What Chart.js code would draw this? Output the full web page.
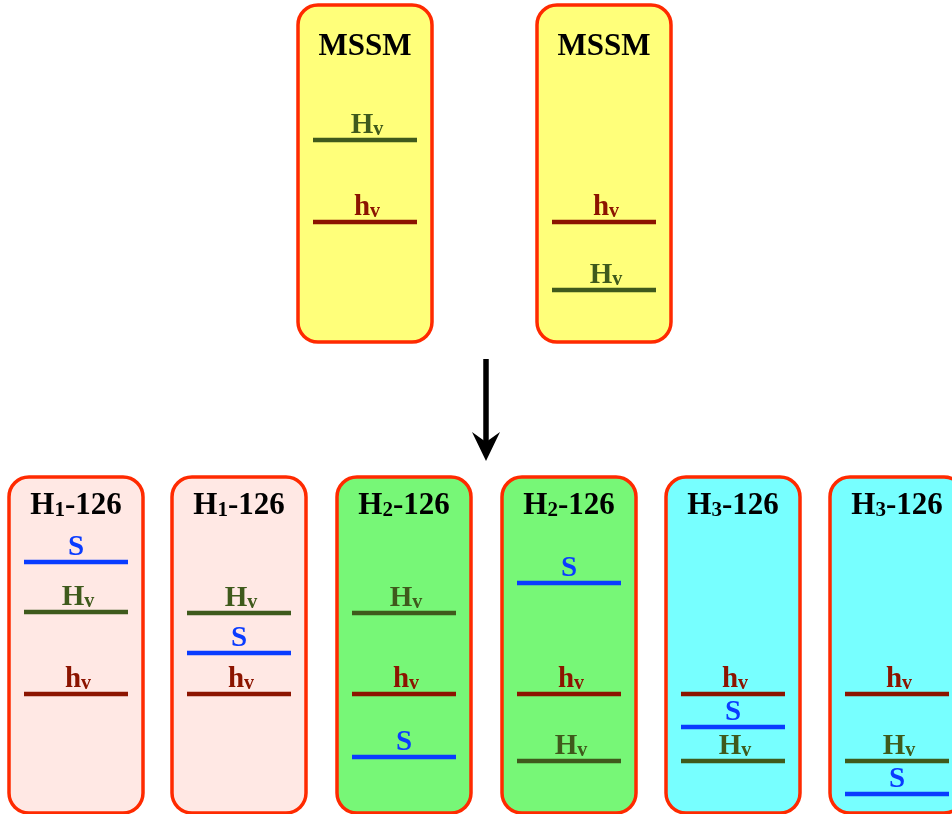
<!DOCTYPE html>
<html>
<head>
<meta charset="utf-8">
<script src="https://cdn.jsdelivr.net/npm/chart.js@4"></script>
<style>
  html, body { margin: 0; padding: 0; background: #fff; }
  #wrap { width: 952px; height: 814px; }
</style>
</head>
<body>
<div id="wrap"><canvas id="c" width="952" height="814"></canvas></div>
<script>
'use strict';

// panels: top row = MSSM, bottom row = extended models
const panelTitles = ['MSSM', 'MSSM', 'H1-126', 'H1-126', 'H2-126', 'H2-126', 'H3-126', 'H3-126'];
const panelSub    = [null, null, '1', '1', '2', '2', '3', '3'];
const panelCenter = [365, 604, 76, 239, 404, 569, 733, 897];
const panelRow    = [0, 0, 1, 1, 1, 1, 1, 1];
const panelFill   = ['#ffff7a', '#ffff7a', '#ffe8e4', '#ffe8e4', '#77f777', '#77f777', '#77ffff', '#77ffff'];

// level heights (y grows downwards)
const hLevels = [222, 222, 694, 694, 694, 694, 694, 694];
const HLevels = [140, 290, 612, 613, 613, 761, 761, 761];
const SLevels = [null, null, 562, 653, 757, 583, 727, 794];

const rowTop    = [5, 477];
const rowBottom = [342, 813];

const C = {
    border: '#ff2a00',
    h: '#8c1400',
    H: '#3f5a1c',
    S: '#0a3cff',
};
const SERIF = "'Liberation Serif', 'DejaVu Serif', serif";
const BOX_W = 134, LINE_HALF = 52;

function levelSet(levels, color, label) {
    const out = [];
    levels.forEach((lv, i) => {
        if (lv == null) return;
        out.push({
            label, showLine: true,
            data: [{ x: panelCenter[i] - LINE_HALF, y: lv }, { x: panelCenter[i] + LINE_HALF, y: lv }],
            borderColor: color, borderWidth: 4.5, pointRadius: 0, borderCapStyle: 'butt',
            panel: i,
        });
    });
    return out;
}

function roundRect(ctx, x, y, w, h, r) {
    ctx.beginPath();
    ctx.moveTo(x + r, y);
    ctx.arcTo(x + w, y, x + w, y + h, r);
    ctx.arcTo(x + w, y + h, x, y + h, r);
    ctx.arcTo(x, y + h, x, y, r);
    ctx.arcTo(x, y, x + w, y, r);
    ctx.closePath();
}

// main text with an optional lowered small part, centred on cx
function drawSubText(ctx, cx, base, parts, color) {
    ctx.fillStyle = color;
    ctx.textBaseline = 'alphabetic';
    ctx.textAlign = 'left';
    let total = 0;
    parts.forEach(p => { ctx.font = `bold ${p.size}px ${SERIF}`; total += ctx.measureText(p.t).width; });
    let x = cx - total / 2;
    parts.forEach(p => {
        ctx.font = `bold ${p.size}px ${SERIF}`;
        ctx.fillText(p.t, x, base + (p.dy || 0));
        x += ctx.measureText(p.t).width;
    });
}

const diagram = {
    id: 'diagram',
    beforeDatasetsDraw(chart) {
        const ctx = chart.ctx, xs = chart.scales.x, ys = chart.scales.y;
        ctx.save();
        panelCenter.forEach((c, i) => {
            const r = panelRow[i];
            const x0 = xs.getPixelForValue(c - BOX_W / 2), x1 = xs.getPixelForValue(c + BOX_W / 2);
            const y0 = ys.getPixelForValue(rowTop[r]), y1 = ys.getPixelForValue(rowBottom[r]);
            roundRect(ctx, x0, y0, x1 - x0, y1 - y0, 20);
            ctx.fillStyle = panelFill[i];
            ctx.fill();
            ctx.lineWidth = 3.5;
            ctx.strokeStyle = C.border;
            ctx.stroke();
        });
        // arrow between rows
        const ax = xs.getPixelForValue(486);
        ctx.strokeStyle = '#000';
        ctx.lineWidth = 5.5;
        ctx.beginPath();
        ctx.moveTo(ax, ys.getPixelForValue(359));
        ctx.lineTo(ax, ys.getPixelForValue(445));
        ctx.stroke();
        ctx.fillStyle = '#000';
        ctx.beginPath();
        ctx.moveTo(ax, ys.getPixelForValue(461));
        ctx.lineTo(xs.getPixelForValue(472), ys.getPixelForValue(432));
        ctx.lineTo(ax, ys.getPixelForValue(442));
        ctx.lineTo(xs.getPixelForValue(500), ys.getPixelForValue(432));
        ctx.closePath();
        ctx.fill();
        ctx.restore();
    },
    afterDatasetsDraw(chart) {
        const ctx = chart.ctx, xs = chart.scales.x, ys = chart.scales.y;
        ctx.save();
        panelCenter.forEach((c, i) => {
            const cx = xs.getPixelForValue(c);
            const base = ys.getPixelForValue(panelRow[i] ? 514 : 55);
            const t = panelTitles[i];
            if (panelSub[i]) {
                drawSubText(ctx, cx, base, [
                    { t: 'H', size: 31 },
                    { t: panelSub[i], size: 21, dy: 2 },
                    { t: t.slice(2), size: 31 },
                ], '#000');
            } else {
                drawSubText(ctx, cx, base, [{ t, size: 31 }], '#000');
            }
        });
        chart.data.datasets.forEach(ds => {
            const c = panelCenter[ds.panel];
            const cx = xs.getPixelForValue(c);
            const base = ys.getPixelForValue(ds.data[0].y) - 7;
            if (ds.label === 'S') {
                drawSubText(ctx, cx, base, [{ t: 'S', size: 29 }], ds.borderColor);
            } else {
                drawSubText(ctx, cx + 2, base, [
                    { t: ds.label, size: 29 },
                    { t: 'v', size: 20, dy: 2 },
                ], ds.borderColor);
            }
        });
        ctx.restore();
    }
};

new Chart(document.getElementById('c'), {
    type: 'scatter',
    data: {
        datasets: [
            ...levelSet(HLevels, C.H, 'H'),
            ...levelSet(hLevels, C.h, 'h'),
            ...levelSet(SLevels, C.S, 'S'),
        ]
    },
    options: {
        responsive: false,
        animation: false,
        layout: { padding: 0 },
        plugins: { legend: { display: false }, tooltip: { enabled: false } },
        scales: {
            x: { type: 'linear', min: 0, max: 952, display: false },
            y: { type: 'linear', min: 0, max: 814, reverse: true, display: false },
        }
    },
    plugins: [diagram]
});
</script>
</body>
</html>
